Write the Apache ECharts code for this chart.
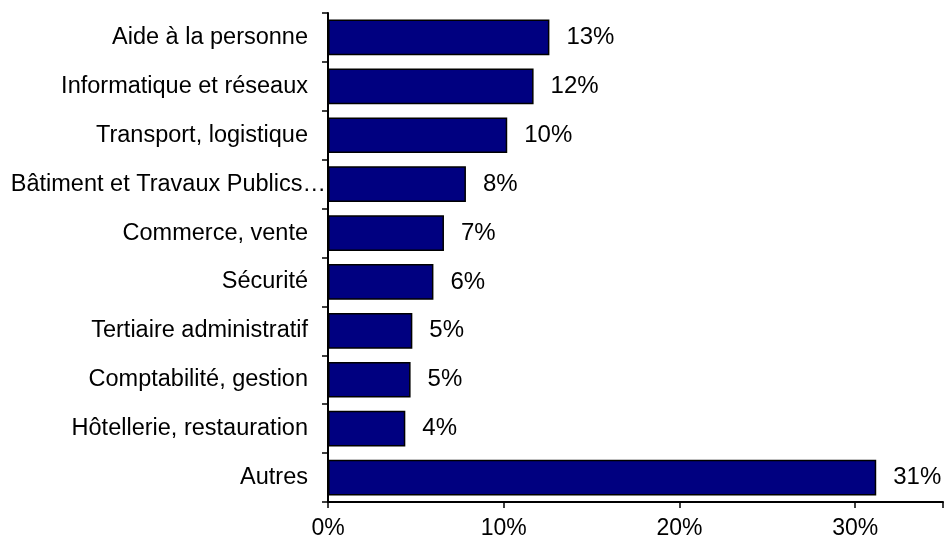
<!DOCTYPE html>
<html><head><meta charset="utf-8">
<script src="https://cdn.jsdelivr.net/npm/echarts@6/dist/echarts.min.js"></script>
<style>html,body{margin:0;padding:0;background:#fff}#c{width:946px;height:538px}</style>
</head><body><div id="c"></div>
<script>
var categories = ["Aide à la personne","Informatique et réseaux","Transport, logistique","Bâtiment et Travaux Publics…","Commerce, vente","Sécurité","Tertiaire administratif","Comptabilité, gestion","Hôtellerie, restauration","Autres"];
var values = [12.6, 11.7, 10.2, 7.85, 6.6, 6.0, 4.8, 4.7, 4.4, 31.2];
var xTicks = [0, 10, 20, 30];

var chart = echarts.init(document.getElementById('c'));
var font = '"Liberation Sans", Arial, sans-serif';
var yData = categories.map(function(c, i){
  return i === 3 ? {value: c, textStyle: {padding: [0, -18, 0, 0]}} : c;
});
chart.setOption({
  animation: false,
  grid: {left: 328, top: 13, right: 3, bottom: 36, containLabel: false, outerBoundsMode: 'none'},
  xAxis: {
    type: 'value', min: 0, max: 35, interval: 10,
    axisLine: {show: true, lineStyle: {color: '#000', width: 2}},
    axisTick: {show: true, length: 6, lineStyle: {color: '#000', width: 1.5}},
    splitLine: {show: false},
    axisLabel: {color: '#000', fontSize: 23, fontFamily: font, margin: 15,
      formatter: function(v){ return xTicks.indexOf(v) >= 0 ? v + '%' : ''; }}
  },
  yAxis: {
    type: 'category', data: yData, inverse: true, z: 3,
    axisLine: {show: true, lineStyle: {color: '#000', width: 2}},
    axisTick: {show: true, length: 6, lineStyle: {color: '#000', width: 1.5}},
    axisLabel: {color: '#000', fontSize: 23.5, fontFamily: font, margin: 20}
  },
  series: [{
    type: 'bar', data: values, barCategoryGap: '27%', z: 4,
    itemStyle: {color: '#000080', borderColor: '#000', borderWidth: 1.5},
    label: {show: true, position: 'right', distance: 17, color: '#000', fontSize: 24, fontFamily: font,
      formatter: function(p){ return Math.round(p.value) + '%'; }}
  }]
});
</script></body></html>
